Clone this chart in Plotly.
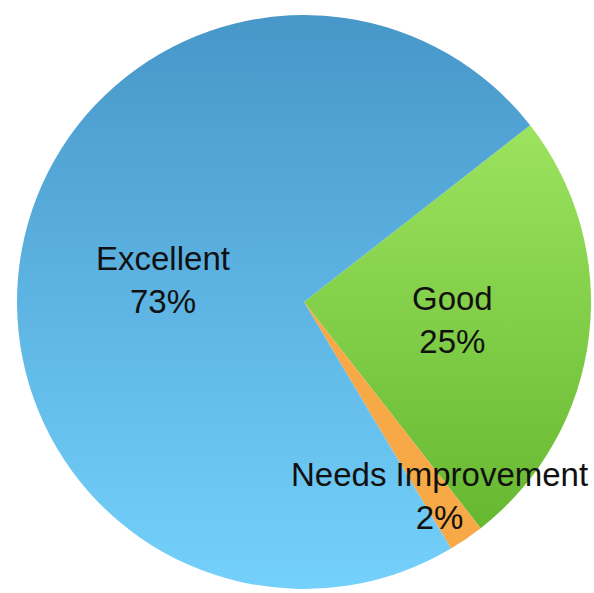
import json
import math
import plotly.graph_objects as go

# Survey rating breakdown (clockwise from the start angle)
labels = ["Good", "Needs Improvement", "Excellent"]
values = [25, 2, 73]

# Flat fallback colours and top->bottom gradient stops per slice
slice_colors = ["#80cc48", "#f7a847", "#5db3e1"]
gradient_stops = {
    "Excellent": ["#4797c9", "#74d1fb"],
    "Good": ["#9ce35f", "#66b830"],
}

# Label placement along each slice's bisector (fraction of radius) plus a small pixel nudge
label_radius = {"Excellent": 0.50, "Good": 0.52, "Needs Improvement": 0.82}
label_shift = {"Excellent": (0, -4), "Good": (0, 0), "Needs Improvement": (3, 0)}

start_angle = 52  # degrees clockwise from 12 o'clock
W, H = 594, 593
dom_x = [17 / W, 591 / W]
dom_y = [1 - 589 / H, 1 - 15 / H]

fig = go.Figure(
    go.Pie(
        labels=labels,
        values=values,
        sort=False,
        direction="clockwise",
        rotation=start_angle,
        marker=dict(colors=slice_colors, line=dict(width=0)),
        textinfo="none",
        hoverinfo="label+percent",
        domain=dict(x=dom_x, y=dom_y),
    )
)

# Labels placed along each slice's bisector, derived from the values
total = sum(values)
cx = (dom_x[0] + dom_x[1]) / 2
cy = (dom_y[0] + dom_y[1]) / 2
rx = (dom_x[1] - dom_x[0]) / 2
ry = (dom_y[1] - dom_y[0]) / 2
acc = 0.0
for lab, v in zip(labels, values):
    mid = math.radians(start_angle + 360 * (acc + v / 2) / total)
    acc += v
    f = label_radius[lab]
    dx, dy = label_shift[lab]
    fig.add_annotation(
        x=cx + f * rx * math.sin(mid),
        y=cy + f * ry * math.cos(mid),
        xref="paper",
        yref="paper",
        xshift=dx,
        yshift=dy,
        text=f"{lab}<br>{round(100 * v / total)}%",
        showarrow=False,
        xanchor="center",
        yanchor="middle",
        font=dict(family="Liberation Sans, Arial, sans-serif", size=33, color="#111111"),
    )

fig.update_layout(
    width=W,
    height=H,
    margin=dict(l=0, r=0, t=0, b=0),
    paper_bgcolor="white",
    plot_bgcolor="white",
    showlegend=False,
)

# Vertical gradient fills for the large slices
post = """
var gd = document.getElementById('{plot_id}');
var svg = gd.querySelector('.main-svg');
var ns = 'http://www.w3.org/2000/svg';
var defs = svg.querySelector('defs');
if (!defs) { defs = document.createElementNS(ns, 'defs'); svg.insertBefore(defs, svg.firstChild); }
var stops = %s;
var labels = %s;
var slices = gd.querySelectorAll('g.slice');
slices.forEach(function(s, i) {
  var d = s.__data__;
  var lab = (d && d.label !== undefined) ? d.label : labels[i];
  if (!stops[lab]) return;
  var id = 'grad' + i;
  var g = document.createElementNS(ns, 'linearGradient');
  g.setAttribute('id', id);
  g.setAttribute('x1', '0'); g.setAttribute('y1', '0');
  g.setAttribute('x2', '0'); g.setAttribute('y2', '1');
  stops[lab].forEach(function(c, k) {
    var st = document.createElementNS(ns, 'stop');
    st.setAttribute('offset', k / (stops[lab].length - 1));
    st.setAttribute('stop-color', c);
    g.appendChild(st);
  });
  defs.appendChild(g);
  var p = s.querySelector('path.surface');
  if (p) p.style.fill = 'url(#' + id + ')';
});
""" % (json.dumps(gradient_stops), json.dumps(labels))

fig.write_html("out.html", post_script=post, config={"displayModeBar": False, "responsive": False})
